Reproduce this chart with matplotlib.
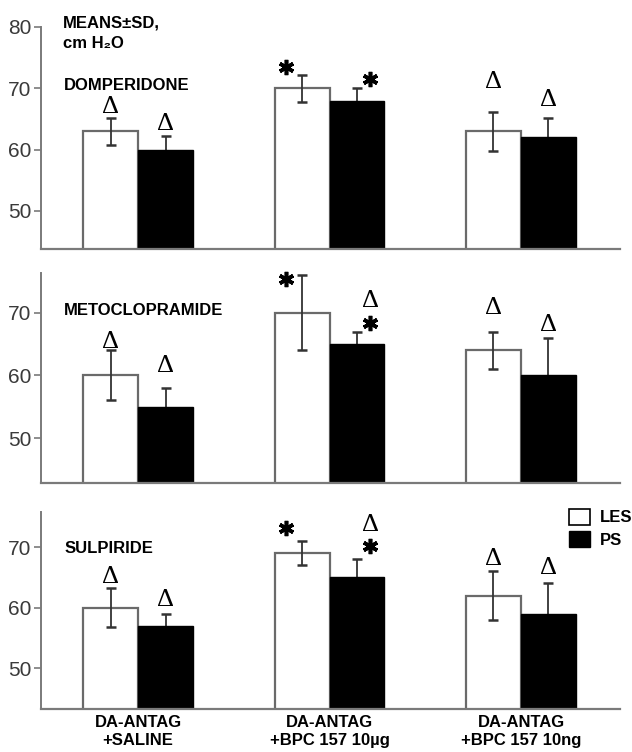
import numpy as np
import matplotlib.pyplot as plt
from matplotlib.patches import Patch

groups = ['DA-ANTAG\n+SALINE', 'DA-ANTAG\n+BPC 157 10µg', 'DA-ANTAG\n+BPC 157 10ng']

# means and SD, cm H2O
dom_les = [63, 70, 63]
dom_les_sd = [2.2, 2.2, 3.2]
dom_ps = [60, 68, 62]
dom_ps_sd = [2.2, 2.0, 3.1]

met_les = [60, 70, 64]
met_les_sd = [4, 6, 3]
met_ps = [55, 65, 60]
met_ps_sd = [3, 2, 6]

sul_les = [60, 69, 62]
sul_les_sd = [3.2, 2, 4]
sul_ps = [57, 65, 59]
sul_ps_sd = [2, 3, 5]

# significance marks (symbol, height)
dom_les_marks = [[('Δ', 67.0)], [('*', 73.4)], [('Δ', 71.1)]]
dom_ps_marks = [[('Δ', 64.2)], [('*', 71.6)], [('Δ', 68.1)]]
met_les_marks = [[('Δ', 65.4)], [('*', 75.4)], [('Δ', 70.8)]]
met_ps_marks = [[('Δ', 61.5)], [('Δ', 71.9), ('*', 68.4)], [('Δ', 68.1)]]
sul_les_marks = [[('Δ', 65.1)], [('*', 73.1)], [('Δ', 68.1)]]
sul_ps_marks = [[('Δ', 61.3)], [('Δ', 73.6), ('*', 70.2)], [('Δ', 66.5)]]

panels = [
    ('DOMPERIDONE', dom_les, dom_les_sd, dom_ps, dom_ps_sd, dom_les_marks, dom_ps_marks),
    ('METOCLOPRAMIDE', met_les, met_les_sd, met_ps, met_ps_sd, met_les_marks, met_ps_marks),
    ('SULPIRIDE', sul_les, sul_les_sd, sul_ps, sul_ps_sd, sul_les_marks, sul_ps_marks),
]

plt.rcParams['font.family'] = ['Liberation Sans', 'DejaVu Sans']

fig = plt.figure(figsize=(6.32, 7.52), dpi=100)
boxes = [[0.0649, 0.6689, 0.916, 0.2952],
         [0.0649, 0.3577, 0.916, 0.2793],
         [0.0649, 0.0572, 0.916, 0.2620]]
ylims = [(43.8, 80), (42.8, 76.4), (43.3, 75.8)]
yticks = [[50, 60, 70, 80], [50, 60, 70], [50, 60, 70]]
label_y = [70.5, 70.4, 69.7]

x = np.arange(len(groups))
w = 0.287
gray = '#7a7a7a'

for k, (name, les, les_sd, ps, ps_sd, les_m, ps_m) in enumerate(panels):
    ax = fig.add_axes(boxes[k])
    ax.bar(x - w / 2, les, w, color='white', edgecolor='#6a6a6a', linewidth=1.6, zorder=2)
    ax.bar(x + w / 2, ps, w, color='black', edgecolor='black', linewidth=1, zorder=2)
    ax.errorbar(x - w / 2, les, yerr=les_sd, fmt='none', ecolor='#333333',
                elinewidth=1.3, capsize=3.5, capthick=1.8, zorder=3)
    # PS bars sit over the lower half of their error bars
    ax.errorbar(x + w / 2, ps, yerr=ps_sd, fmt='none', ecolor='#333333',
                elinewidth=1.3, capsize=3.5, capthick=1.8, zorder=1)

    for marks, xs, shift in [(les_m, x - w / 2, -0.085), (ps_m, x + w / 2, 0.07)]:
        for i, lst in enumerate(marks):
            dx = shift if i == 1 else 0
            for sym, yy in lst:
                if sym == 'Δ':
                    ax.text(xs[i] + dx, yy, 'Δ', ha='center', va='center',
                            family='Liberation Serif', fontsize=19, clip_on=False)
                else:
                    ax.plot(xs[i] + dx, yy, marker=(6, 2, 0), ms=11, mew=2.6,
                            color='black', clip_on=False)

    ax.text(-0.385, label_y[k], name, fontweight='bold',
            fontsize=12, va='center', ha='left')

    ax.set_xlim(-0.507, 2.517)
    ax.set_ylim(*ylims[k])
    ax.set_yticks(yticks[k])
    ax.tick_params(axis='y', length=5, width=1.2, color=gray, labelsize=15,
                   labelcolor='#3a3a3a', pad=2)
    ax.spines['top'].set_visible(False)
    ax.spines['right'].set_visible(False)
    ax.spines['left'].set_color(gray)
    ax.spines['bottom'].set_color(gray)
    ax.spines['left'].set_linewidth(1.4)
    ax.spines['bottom'].set_linewidth(1.6)
    ax.set_xticks(x)
    if k == 2:
        ax.set_xticklabels(groups, fontweight='bold', fontsize=12, linespacing=1.3)
        ax.tick_params(axis='x', length=0, pad=4)
        handles = [Patch(facecolor='white', edgecolor='black', linewidth=1.2, label='LES'),
                   Patch(facecolor='black', edgecolor='black', label='PS')]
        ax.legend(handles=handles, loc='upper left', bbox_to_anchor=(0.9, 1.05),
                  frameon=False, handlelength=1.3, handleheight=1.1,
                  handletextpad=0.55, labelspacing=0.35, borderaxespad=0,
                  prop={'weight': 'bold', 'size': 12})
    else:
        ax.set_xticklabels([])
        ax.tick_params(axis='x', length=0)

fig.text(63 / 632, 1 - 23 / 752, 'MEANS±SD,', fontweight='bold', fontsize=12, va='center')
fig.text(63 / 632, 1 - 44 / 752, 'cm H₂O', fontweight='bold', fontsize=12, va='center')

fig.savefig('out.png', dpi=100, facecolor='white')
